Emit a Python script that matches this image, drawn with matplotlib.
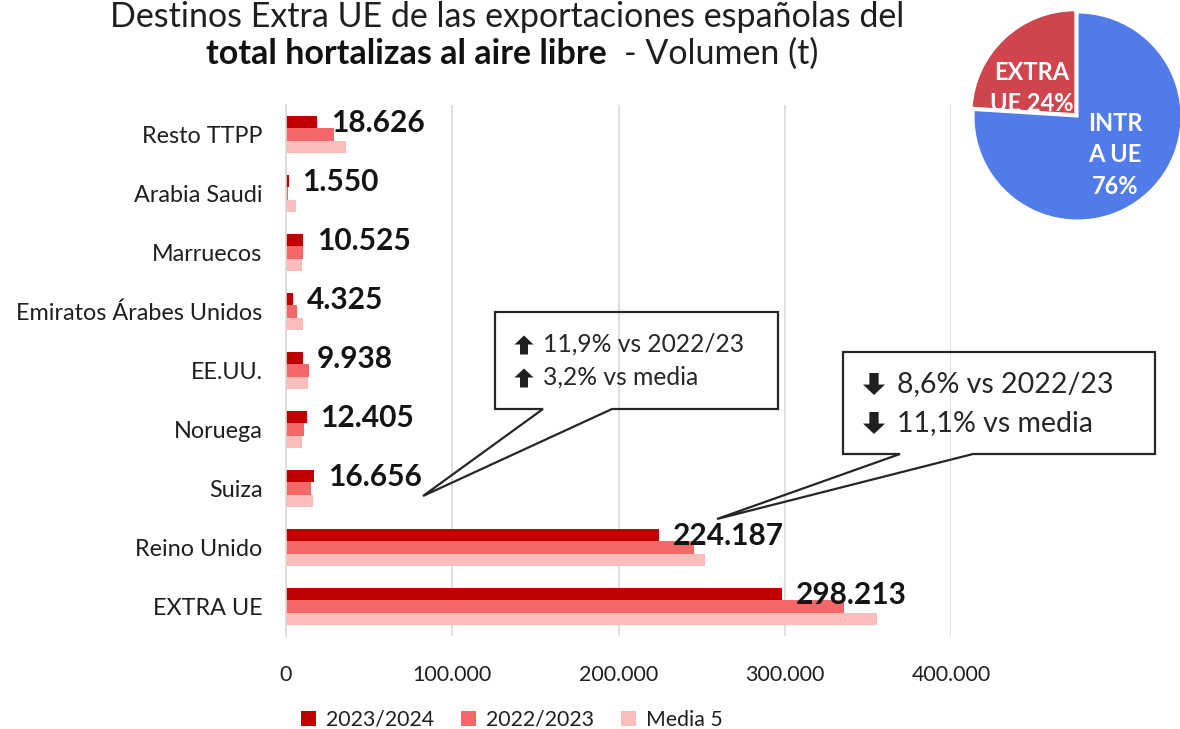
import matplotlib
matplotlib.use("Agg")
import matplotlib.pyplot as plt
from matplotlib.patches import Polygon
from matplotlib.ticker import FuncFormatter

# Export destinations outside the EU (tonnes)
categories = ["Resto TTPP", "Arabia Saudi", "Marruecos", "Emiratos Árabes Unidos",
              "EE.UU.", "Noruega", "Suiza", "Reino Unido", "EXTRA UE"]
season_2023_24 = [18626, 1550, 10525, 4325, 9938, 12405, 16656, 224187, 298213]
season_2022_23 = [28900, 1400, 10200, 6600, 14000, 10800, 14885, 245281, 335400]
media_5 = [36000, 5800, 9600, 10000, 13000, 9600, 16140, 252179, 355700]
value_labels = ["18.626", "1.550", "10.525", "4.325", "9.938", "12.405", "16.656",
                "224.187", "298.213"]
series_names = ["2023/2024", "2022/2023", "Media 5"]
x_ticks = [0, 100000, 200000, 300000, 400000]

pie_labels = ["INTR\nA UE\n76%", "EXTRA\nUE 24%"]
pie_values = [76, 24]

callout_up = ["11,9% vs 2022/23", "3,2% vs media"]
callout_down = ["8,6% vs 2022/23", "11,1% vs media"]

FONT = ["Lato", "DejaVu Sans"]
plt.rcParams["font.family"] = FONT

W, H = 1180, 729
fig = plt.figure(figsize=(W / 100, H / 100), dpi=100)


def fx(px):
    return px / W


def fy(py):
    return 1 - py / H


colors = ["#c00000", "#f46868", "#fbbcbc"]
TXT = "#1f1f1f"

# Bar chart area
ax = fig.add_axes([fx(286), fy(636), fx(951) - fx(286), fy(105) - fy(636)])
h = 0.21
ys = list(range(len(categories)))
for k, (vals, col) in enumerate(zip([season_2023_24, season_2022_23, media_5], colors)):
    ax.barh([y + (k - 1) * h for y in ys], vals, height=h, color=col,
            label=series_names[k], zorder=3)

for y, v, lab in zip(ys, season_2023_24, value_labels):
    ax.annotate(lab, xy=(v, y - h), xytext=(10, -1), textcoords="offset points",
                ha="left", va="center", fontsize=21.5, fontweight="bold",
                color="#141414", zorder=5)

ax.set_ylim(len(categories) - 0.5, -0.5)
ax.set_xlim(0, 400000)
ax.set_yticks(ys)
ax.set_yticklabels(categories, fontsize=16.8, color=TXT)
ax.set_xticks(x_ticks)
ax.xaxis.set_major_formatter(FuncFormatter(lambda v, p: f"{int(v):,}".replace(",", ".")))
ax.tick_params(axis="x", labelsize=15.4, labelcolor=TXT, length=0, pad=21)
ax.tick_params(axis="y", length=0, pad=17)
ax.grid(axis="x", color="#d9d9d9", linewidth=1.2, zorder=0)
for s in ["top", "right", "bottom"]:
    ax.spines[s].set_visible(False)
ax.spines["left"].set_color("#d9d9d9")
ax.spines["left"].set_linewidth(1.2)
ax.spines["left"].set_zorder(4)

# Legend
handles, labels = ax.get_legend_handles_labels()
fig.legend(handles, labels, loc="center", bbox_to_anchor=(fx(512), fy(720)), ncol=3,
           frameon=False, fontsize=15.3, handlelength=0.7, handleheight=0.7,
           handletextpad=0.45, columnspacing=1.3, labelcolor=TXT)

# Title
fig.text(fx(507), fy(1), "Destinos Extra UE de las exportaciones españolas del",
         ha="center", va="top", fontsize=24.5, color=TXT)
fig.text(fx(607), fy(54), "total hortalizas al aire libre", ha="right", va="center",
         fontsize=24.5, fontweight="bold", color="#111111")
fig.text(fx(624), fy(54), "- Volumen (t)", ha="left", va="center",
         fontsize=24.5, color=TXT)

# Pie of EU vs non-EU share
r = 104
pax = fig.add_axes([fx(1077.5 - r), fy(116.5 + r), fx(2 * r), fy(0) - fy(2 * r)])
extra_share = pie_values[1] / sum(pie_values)
pax.pie(pie_values, colors=["#507be8", "#d0454c"], startangle=90 + 360 * extra_share,
        explode=(0, 0.03), wedgeprops=dict(edgecolor="white", linewidth=1.5))
pax.set_xlim(-1.0, 1.0)
pax.set_ylim(-1.0, 1.0)
pax.set_aspect("auto")
fig.text(fx(1032), fy(88), pie_labels[1], ha="center", va="center", fontsize=17,
         fontweight="bold", color="white", linespacing=1.45)
fig.text(fx(1115), fy(155), pie_labels[0], ha="center", va="center", fontsize=17,
         fontweight="bold", color="white", linespacing=1.45)


# Callout boxes
def callout(box, base, tip):
    x0, y0, x1, y1 = box
    b0, b1 = base
    pts = [(x0, y0), (x1, y0), (x1, y1), (b1, y1), tip, (b0, y1), (x0, y1)]
    poly = Polygon([(fx(a), fy(b)) for a, b in pts], closed=True, fill=False,
                   edgecolor="#262626", linewidth=1.6, transform=fig.transFigure,
                   zorder=10)
    fig.add_artist(poly)


def block_arrow(cx, cy, size, up=True):
    # filled block arrow: triangular head plus rectangular shaft
    s = size / 2
    hw, sw = s, s * 0.42
    d = -1 if up else 1
    pts = [(cx, cy + d * s), (cx + hw, cy + d * 0.05 * s), (cx + sw, cy + d * 0.05 * s),
           (cx + sw, cy - d * s), (cx - sw, cy - d * s), (cx - sw, cy + d * 0.05 * s),
           (cx - hw, cy + d * 0.05 * s)]
    fig.add_artist(Polygon([(fx(a), fy(b)) for a, b in pts], closed=True,
                           facecolor="#1f1f1f", edgecolor="none",
                           transform=fig.transFigure, zorder=11))


callout((495, 312, 778, 409), (543, 612), (423, 496))
callout((843, 352, 1155, 454), (900, 973), (717, 519))

block_arrow(524, 345, 19, up=True)
block_arrow(524, 378, 19, up=True)
fig.text(fx(543), fy(344), callout_up[0], ha="left", va="center", fontsize=17.7, color="#262626")
fig.text(fx(543), fy(377), callout_up[1], ha="left", va="center", fontsize=17.7, color="#262626")

block_arrow(874, 384, 22, up=False)
block_arrow(874, 423, 22, up=False)
fig.text(fx(897), fy(384), callout_down[0], ha="left", va="center", fontsize=20.5, color="#262626")
fig.text(fx(897), fy(423), callout_down[1], ha="left", va="center", fontsize=20.5, color="#262626")

fig.savefig("out.png", dpi=100)
